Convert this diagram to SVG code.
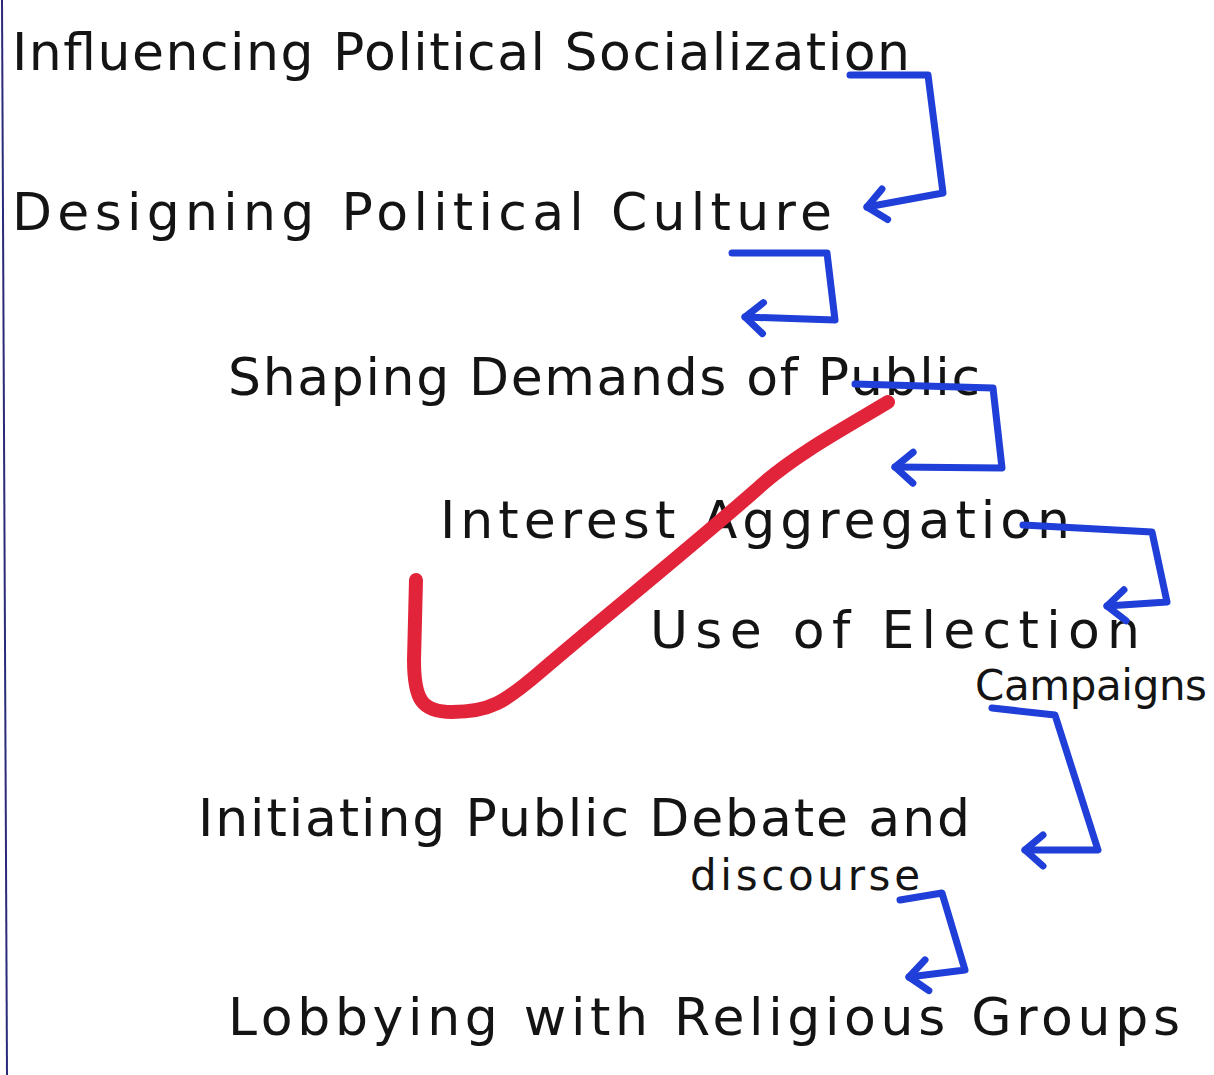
<svg xmlns="http://www.w3.org/2000/svg" width="1214" height="1075" viewBox="0 0 1214 1075">
<style>
.t{font-family:"DejaVu Sans","Liberation Sans",sans-serif;font-size:52px;fill:#141414;}
.s{font-family:"DejaVu Sans","Liberation Sans",sans-serif;font-size:42px;fill:#141414;}
.c{fill:none;stroke:#1f3fd8;stroke-width:7;stroke-linejoin:round;stroke-linecap:round;}
</style>
<defs>
<marker id="ah" markerUnits="userSpaceOnUse" viewBox="-25 -25 50 50" markerWidth="50" markerHeight="50" refX="0" refY="0" orient="auto" overflow="visible">
<path d="M-18,-16 L0,0 L-18,15" fill="none" stroke="#1f3fd8" stroke-width="7" stroke-linecap="round" stroke-linejoin="round"/>
</marker>
</defs>
<rect width="1214" height="1075" fill="#ffffff"/>
<line x1="2" y1="0" x2="7" y2="1075" stroke="#2b2a78" stroke-width="2"/>
<g id="n1"><text class="t" x="12" y="70" textLength="898">Influencing Political Socialization</text></g>
<g id="n2"><text class="t" x="12" y="230" textLength="820">Designing Political Culture</text></g>
<g id="n3"><text class="t" x="228" y="395" textLength="752">Shaping Demands of Public</text></g>
<g id="n4"><text class="t" x="440" y="538" textLength="630">Interest Aggregation</text></g>
<g id="n5"><text class="t" x="650" y="648" font-size="50" textLength="490">Use of Election</text><text class="s" x="975" y="700" textLength="232">Campaigns</text></g>
<g id="n6"><text class="t" x="198" y="836" font-size="50" textLength="772">Initiating Public Debate and</text><text class="s" x="690" y="890" textLength="230">discourse</text></g>
<g id="n7"><text class="t" x="228" y="1035" textLength="952">Lobbying with Religious Groups</text></g>
<g id="connectors">
<path class="c" marker-end="url(#ah)" d="M850,75 L928,75 L943,193 L867,207"/>
<path class="c" marker-end="url(#ah)" d="M732,253 L827,253 L835,320 L745,317"/>
<path class="c" marker-end="url(#ah)" d="M855,384 L993,388 L1002,468 L895,467"/>
<path class="c" marker-end="url(#ah)" d="M1023,525 L1152,532 L1167,602 L1107,606"/>
<path class="c" marker-end="url(#ah)" d="M992,708 L1055,715 L1098,850 L1025,850"/>
<path class="c" marker-end="url(#ah)" d="M900,900 L942,893 L965,970 L909,977"/>
</g>
<path d="M888,402 C845,428 800,452 765,482 C700,540 610,612 540,672 C505,702 490,712 452,712 C422,712 414,700 414,660 L416,580" fill="none" stroke="#e2243b" stroke-width="14" stroke-linecap="round" stroke-linejoin="round"/>
</svg>
